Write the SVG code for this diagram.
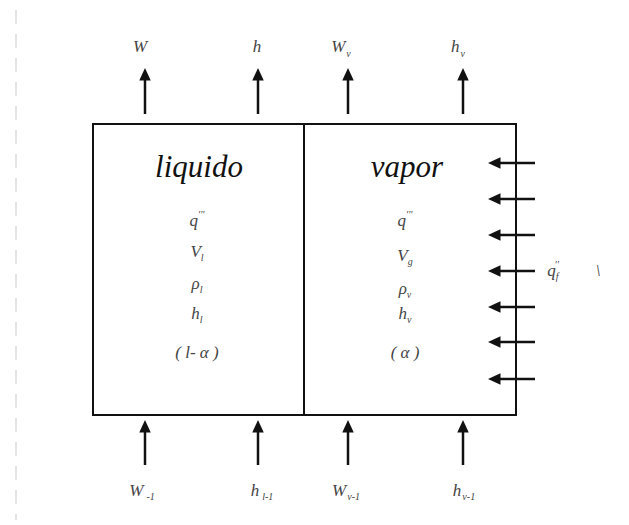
<svg xmlns="http://www.w3.org/2000/svg" width="629" height="525" viewBox="0 0 629 525">
<style>
.t{font-family:"Liberation Serif","Times New Roman","DejaVu Serif",serif;font-style:italic;fill:#444;font-size:17px;text-anchor:middle}
.s{font-size:10px}
.big{font-family:"Liberation Serif","Times New Roman","DejaVu Serif",serif;font-style:italic;fill:#111;font-size:31px;text-anchor:middle}
.ln{stroke:#111;stroke-width:2.5;fill:none}
</style>
<defs>
<marker id="ah" markerWidth="5" markerHeight="5" refX="1" refY="2.5" orient="auto" markerUnits="strokeWidth">
<path d="M0,0.2 L5,2.5 L0,4.8 Z" fill="#111"/>
</marker>
</defs>
<rect width="629" height="525" fill="#fff"/>
<line x1="16" y1="10" x2="16" y2="520" stroke="#ddd" stroke-width="1.5" stroke-dasharray="14 10"/>
<g id="box">
<rect x="93" y="124" width="423" height="291" fill="none" stroke="#111" stroke-width="2"/>
<line x1="304" y1="124" x2="304" y2="415" stroke="#111" stroke-width="2"/>
</g>
<g id="liquido">
<text class="big" x="199" y="177">liquido</text>
<text class="t" x="197" y="226">q<tspan class="s" dy="-8">'''</tspan></text>
<text class="t" x="197" y="257">V<tspan class="s" dy="4">l</tspan></text>
<text class="t" x="197" y="289">ρ<tspan class="s" dy="4">l</tspan></text>
<text class="t" x="197" y="319">h<tspan class="s" dy="4">l</tspan></text>
<text class="t" x="197" y="358">( l- α )</text>
</g>
<g id="vapor">
<text class="big" x="407" y="177">vapor</text>
<text class="t" x="405" y="226">q<tspan class="s" dy="-8">'''</tspan></text>
<text class="t" x="405" y="261">V<tspan class="s" dy="4">g</tspan></text>
<text class="t" x="405" y="294">ρ<tspan class="s" dy="4">v</tspan></text>
<text class="t" x="405" y="319">h<tspan class="s" dy="4">v</tspan></text>
<text class="t" x="405" y="358">( α )</text>
</g>
<g id="top-labels">
<text class="t" x="140" y="52">W</text>
<text class="t" x="257" y="52">h</text>
<text class="t" x="341" y="52">W<tspan class="s" dx="1" dy="5">v</tspan></text>
<text class="t" x="458" y="52">h<tspan class="s" dx="1" dy="5">v</tspan></text>
</g>
<g id="bottom-labels">
<text class="t" x="142" y="496">W<tspan class="s" dx="3" dy="4">-1</tspan></text>
<text class="t" x="262" y="496">h<tspan class="s" dx="3" dy="4">l-1</tspan></text>
<text class="t" x="346" y="496">W<tspan class="s" dx="1" dy="4">v-1</tspan></text>
<text class="t" x="464" y="496">h<tspan class="s" dx="1" dy="4">v-1</tspan></text>
</g>
<g id="heat">
<text class="t" x="553" y="276">q<tspan class="s" dy="4">f</tspan><tspan class="s" dx="-4" dy="-12">''</tspan></text>
<text class="t" x="598" y="276" fill="#888">\</text>
</g>
<g id="connectors" class="ln">
<line x1="145" y1="114" x2="145" y2="78" marker-end="url(#ah)"/>
<line x1="258" y1="114" x2="258" y2="78" marker-end="url(#ah)"/>
<line x1="348" y1="114" x2="348" y2="78" marker-end="url(#ah)"/>
<line x1="463" y1="114" x2="463" y2="78" marker-end="url(#ah)"/>
<line x1="145" y1="465" x2="145" y2="430" marker-end="url(#ah)"/>
<line x1="258" y1="465" x2="258" y2="430" marker-end="url(#ah)"/>
<line x1="348" y1="465" x2="348" y2="430" marker-end="url(#ah)"/>
<line x1="463" y1="465" x2="463" y2="430" marker-end="url(#ah)"/>
<line x1="535" y1="163" x2="498" y2="163" marker-end="url(#ah)"/>
<line x1="535" y1="199" x2="498" y2="199" marker-end="url(#ah)"/>
<line x1="535" y1="235" x2="498" y2="235" marker-end="url(#ah)"/>
<line x1="535" y1="271" x2="498" y2="271" marker-end="url(#ah)"/>
<line x1="535" y1="307" x2="498" y2="307" marker-end="url(#ah)"/>
<line x1="535" y1="342" x2="498" y2="342" marker-end="url(#ah)"/>
<line x1="535" y1="379" x2="498" y2="379" marker-end="url(#ah)"/>
</g>
</svg>
